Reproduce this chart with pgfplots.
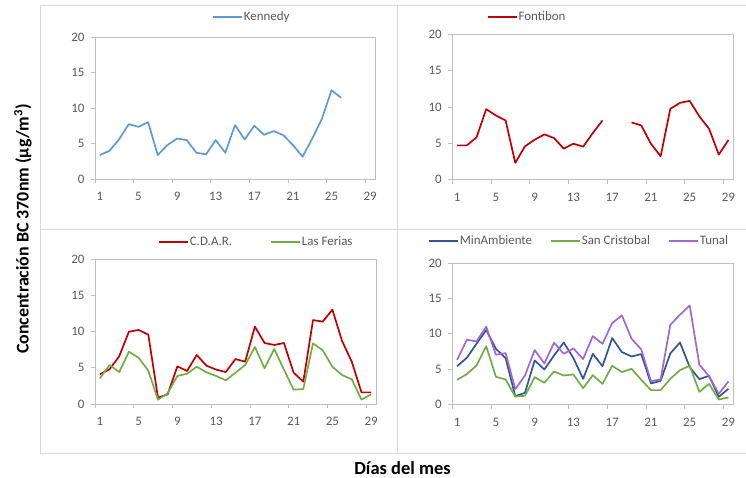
\documentclass[border=0pt]{standalone}
\usepackage{pgfplots}
\usepackage{pgfplotstable}
\pgfplotsset{compat=1.18}
\usepackage{fontspec}
\setmainfont{Carlito}
\definecolor{cKen}{HTML}{5B9BD5}
\definecolor{cRed}{HTML}{C00000}
\definecolor{cGreen}{HTML}{70AD47}
\definecolor{cBlue}{HTML}{2F5597}
\definecolor{cPurple}{HTML}{A066D3}
\definecolor{cTick}{HTML}{595959}
\definecolor{cAxis}{HTML}{BFBFBF}
\definecolor{cBorder}{HTML}{D9D9D9}

\pgfplotstableread{
d Kennedy
1 3.37
2 3.98
3 5.6
4 7.73
5 7.35
6 8.0
7 3.37
8 4.78
9 5.7
10 5.48
11 3.7
12 3.47
13 5.48
14 3.7
15 7.6
16 5.57
17 7.5
18 6.23
19 6.74
20 6.18
21 4.78
22 3.14
23 5.7
24 8.48
25 12.5
26 11.43
}\tKen

\pgfplotstableread{
d Fontibon
1 4.71
2 4.71
3 5.81
4 9.70
5 8.83
6 8.15
7 2.29
8 4.58
9 5.49
10 6.22
11 5.72
12 4.26
13 4.94
14 4.53
15 6.4
16 8.15
17 nan
18 nan
19 7.87
20 7.46
21 4.94
22 3.2
23 9.75
24 10.57
25 10.85
26 8.7
27 7.0
28 3.43
29 5.45
}\tFon

\pgfplotstableread{
d CDAR Ferias
1 4.1 3.55
2 4.8 5.39
3 6.6 4.42
4 10.0 7.23
5 10.23 6.4
6 9.59 4.6
7 0.88 0.6
8 1.34 1.47
9 5.2 3.87
10 4.56 4.19
11 6.77 5.16
12 5.3 4.38
13 4.75 3.87
14 4.42 3.27
15 6.22 4.33
16 5.85 5.39
17 10.7 7.88
18 8.43 4.93
19 8.16 7.6
20 8.43 4.75
21 4.33 1.98
22 3.09 2.07
23 11.6 8.39
24 11.38 7.42
25 13.04 5.16
26 8.7 4.0
27 5.85 3.41
28 1.61 0.6
29 1.61 1.34
}\tBL

\pgfplotstableread{
d MinAmb SanCr Tunal
1 5.42 3.49 6.32
2 6.6 4.29 9.15
3 8.6 5.52 8.92
4 10.52 8.25 11.0
5 7.88 3.92 7.03
6 6.56 3.54 7.26
7 1.18 1.13 2.17
8 1.65 1.23 4.1
9 6.23 3.87 7.69
10 4.95 3.07 5.8
11 6.93 4.67 8.73
12 8.77 4.1 7.17
13 6.56 4.25 7.92
14 3.63 2.31 6.42
15 7.17 4.15 9.67
16 5.42 2.92 8.58
17 9.39 5.47 11.5
18 7.41 4.58 12.6
19 6.79 5.05 9.29
20 7.12 3.49 7.78
21 2.97 2.03 3.3
22 3.35 2.03 3.54
23 7.22 3.63 11.27
24 8.77 4.86 12.69
25 5.28 5.47 14.0
26 3.58 1.79 5.61
27 4.06 2.92 4.0
28 1.08 0.71 1.51
29 2.22 0.99 3.25
}\tBR

\pgfplotsset{
  panel/.style={
    scale only axis,
    anchor=south west,
    xmin=0.5, xmax=29.5,
    ymin=0, ymax=20,
    ytick={0,5,10,15,20},
    xtick={0.5,4.5,...,28.5},
    xticklabels={},
    extra x ticks={1,5,9,13,17,21,25,29},
    extra x tick labels={1,5,9,13,17,21,25,29},
    extra x tick style={major tick length=0pt, tick label style={yshift=-10bp}},
    tick align=outside,
    major tick length=4bp,
    xtick pos=lower, ytick pos=left,
    axis line style={draw=cAxis, line width=0.8bp},
    tick style={draw=cAxis, line width=0.8bp},
    tick label style={font=\fontsize{13}{15}\selectfont, text=cTick},
    yticklabel style={xshift=-3bp},
    /pgf/number format/assume math mode=true,
    unbounded coords=jump,
    every axis plot/.append style={line width=1.7bp, line join=round},
    legend image code/.code={\draw[##1,line width=1.7bp] (0bp,0bp) -- (29bp,0bp);},
    legend style={draw=none, fill=none, inner sep=0pt, anchor=west,
      font=\fontsize{13}{15}\selectfont, text=cTick,
      legend columns=-1,
      nodes={inner sep=1bp}},
  }
}

\begin{document}
\begin{tikzpicture}
\path[use as bounding box] (0,0) rectangle (746bp,-478bp);
% panel borders
\draw[cBorder, line width=0.8bp] (40bp,-5bp) -- (746bp,-5bp);
\draw[cBorder, line width=0.8bp] (40bp,-229bp) -- (746bp,-229bp);
\draw[cBorder, line width=0.8bp] (40bp,-453.5bp) -- (746bp,-453.5bp);
\draw[cBorder, line width=0.8bp] (40bp,-5bp) -- (40bp,-453.5bp);
\draw[cBorder, line width=0.8bp] (397bp,-5bp) -- (397bp,-453.5bp);

% Top-left
\begin{axis}[panel, at={(95bp,-179bp)}, width=280bp, height=142bp,
  legend style={at={(0.418,1.141)}}]
\addplot[cKen] table[x=d, y=Kennedy] {\tKen};
\addlegendentry{Kennedy}
\end{axis}

% Top-right
\begin{axis}[panel, at={(452.3bp,-179.5bp)}, width=281bp, height=145bp,
  legend style={at={(0.1224,1.121)}}]
\addplot[cRed] table[x=d, y=Fontibon] {\tFon};
\addlegendentry{Fontibon}
\end{axis}

% Bottom-left
\begin{axis}[panel, at={(95bp,-404bp)}, width=281bp, height=144.7bp,
  legend style={at={(0.224,1.12)}, /tikz/every even column/.append style={column sep=37bp}}]
\addplot[cRed] table[x=d, y=CDAR] {\tBL};
\addlegendentry{C.D.A.R.}
\addplot[cGreen] table[x=d, y=Ferias] {\tBL};
\addlegendentry{Las Ferias}
\end{axis}

% Bottom-right
\begin{axis}[panel, at={(452.3bp,-404.5bp)}, width=281bp, height=141.5bp,
  legend style={at={(-0.0865,1.155)}, /tikz/every even column/.append style={column sep=17bp}}]
\addplot[cBlue] table[x=d, y=MinAmb] {\tBR};
\addlegendentry{MinAmbiente}
\addplot[cGreen] table[x=d, y=SanCr] {\tBR};
\addlegendentry{San Cristobal}
\addplot[cPurple] table[x=d, y=Tunal] {\tBR};
\addlegendentry{Tunal}
\end{axis}

\node[rotate=90, font=\fontsize{18}{20}\selectfont\bfseries] at (23bp,-229bp) {Concentración BC 370nm (µg/m\textsuperscript{3})};
\node[anchor=base, inner sep=0pt, font=\fontsize{18.5}{20}\selectfont\bfseries] at (402.5bp,-474bp) {Días del mes};
\end{tikzpicture}
\end{document}
